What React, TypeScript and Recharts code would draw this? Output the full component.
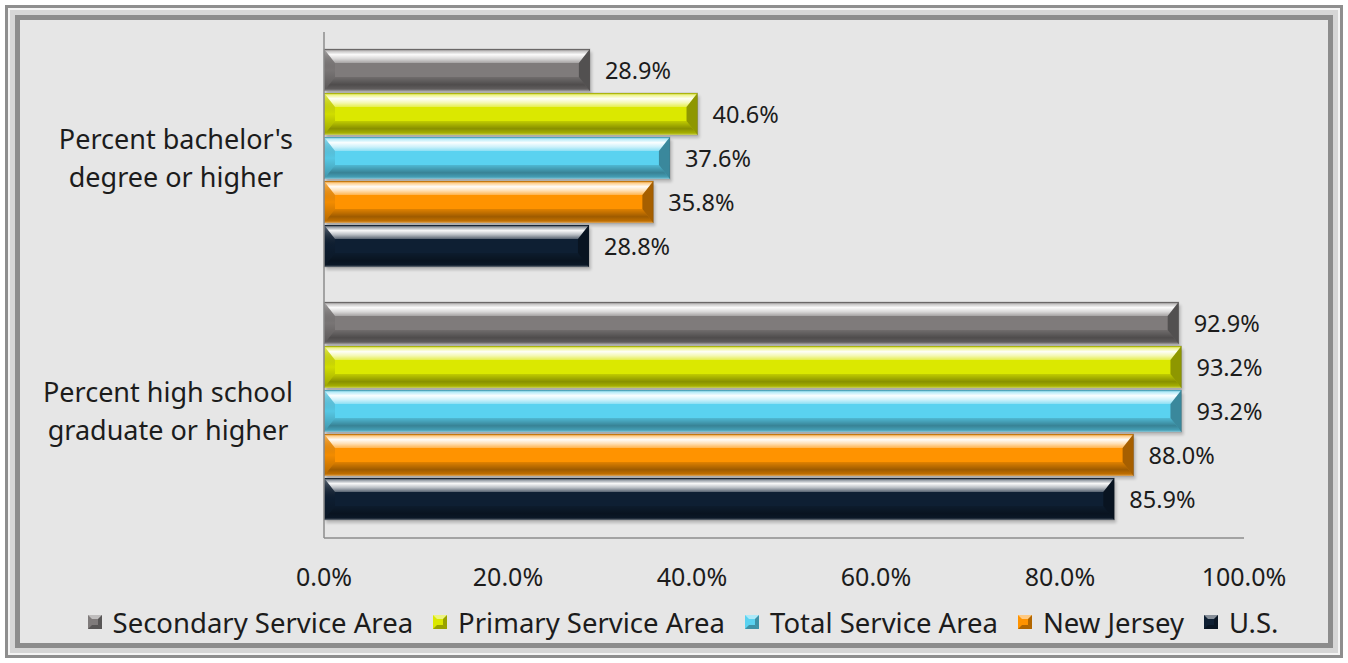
import React from "react";
import {
  BarChart,
  Bar,
  XAxis,
  YAxis,
  Legend,
  LabelList,
} from "recharts";

const categories = [
  "Percent bachelor's\ndegree or higher",
  "Percent high school\ngraduate or higher",
];
const secondaryArea = [28.9, 92.9];
const primaryArea = [40.6, 93.2];
const totalArea = [37.6, 93.2];
const newJersey = [35.8, 88.0];
const usValues = [28.8, 85.9];
const xTicks = [0, 20, 40, 60, 80, 100];

const series = [
  { key: "secondary", name: "Secondary Service Area", color: "#7f7b7b", values: secondaryArea },
  { key: "primary", name: "Primary Service Area", color: "#dbe800", values: primaryArea },
  { key: "total", name: "Total Service Area", color: "#5ad2f0", values: totalArea },
  { key: "nj", name: "New Jersey", color: "#ff9300", values: newJersey },
  { key: "us", name: "U.S.", color: "#0e1f33", values: usValues },
];

const rows = categories.map((name, i) => {
  const row: { [k: string]: string | number } = { name };
  series.forEach((s) => {
    row[s.key] = s.values[i];
  });
  return row;
});

const FONT = "'Noto Sans', 'Open Sans', sans-serif";
const TEXT = "#1c1c1c";

let ctx: CanvasRenderingContext2D | null = null;
const textWidth = (s: string, font: string) => {
  if (!ctx) ctx = document.createElement("canvas").getContext("2d");
  if (!ctx) return s.length * 12;
  ctx.font = font;
  return ctx.measureText(s).width;
};

// bevelled bar like the Excel "angle" bevel
const BevelBar = (props: any) => {
  const { x, y, width, height, fill } = props;
  if (!width || width <= 0) return null;
  const h = height - 2;
  const bx = Math.min(11, width / 2);
  const by = Math.min(14, h / 3);
  const r = x + width;
  const btm = y + h;
  return (
    <g>
      <rect x={x + 2} y={y + 3} width={width} height={h} fill="#000" opacity={0.2} filter="url(#barShadow)" />
      <rect x={x} y={y} width={width} height={h} fill={fill} />
      <polygon points={`${x},${y} ${r},${y} ${r - bx},${y + by} ${x + bx},${y + by}`} fill="url(#bevelTop)" />
      <polygon points={`${x},${btm} ${r},${btm} ${r - bx},${btm - by} ${x + bx},${btm - by}`} fill="url(#bevelBottom)" />
      <polygon points={`${x},${y} ${x + bx},${y + by} ${x + bx},${btm - by} ${x},${btm}`} fill="url(#bevelLeft)" />
      <polygon points={`${r},${y} ${r - bx},${y + by} ${r - bx},${btm - by} ${r},${btm}`} fill="#000" opacity={0.35} />
      <rect x={x} y={y} width={width} height={h} fill="none" stroke="#000" strokeOpacity={0.15} strokeWidth={1} />
    </g>
  );
};

const CategoryTick = (props: any) => {
  const { x, y, payload } = props;
  const lines = String(payload.value).split("\n");
  const size = 27;
  const font = `${size}px 'Noto Sans'`;
  const maxW = Math.max(...lines.map((l) => textWidth(l, font)));
  const cx = x - 31 - maxW / 2;
  const lh = 38;
  const start = y - ((lines.length - 1) * lh) / 2;
  return (
    <text textAnchor="middle" fontFamily={FONT} fontSize={size} fill={TEXT}>
      {lines.map((l, i) => (
        <tspan key={i} x={cx} y={start + i * lh} dy="0.35em">
          {l}
        </tspan>
      ))}
    </text>
  );
};

const LegendIcon = ({ color }: { color: string }) => {
  const s = 14;
  const b = 4;
  return (
    <svg width={s} height={s + 1} style={{ display: "block" }}>
      <rect x={0} y={0} width={s} height={s} fill={color} />
      <polygon points={`0,0 ${s},0 ${s - b},${b} ${b},${b}`} fill="#fff" opacity={0.5} />
      <polygon points={`0,${s} ${s},${s} ${s - b},${s - b} ${b},${s - b}`} fill="#000" opacity={0.3} />
      <polygon points={`${s},0 ${s - b},${b} ${s - b},${s - b} ${s},${s}`} fill="#000" opacity={0.3} />
    </svg>
  );
};

const LegendContent = () => (
  <div
    style={{
      display: "flex",
      justifyContent: "center",
      alignItems: "center",
      height: 30,
      paddingLeft: 18,
      fontFamily: FONT,
      fontSize: 27.5,
      color: TEXT,
      whiteSpace: "nowrap",
    }}
  >
    {series.map((s, i) => (
      <div key={s.key} style={{ display: "flex", alignItems: "center", marginLeft: i === 0 ? 0 : 20 }}>
        <LegendIcon color={s.color} />
        <span style={{ marginLeft: 11 }}>{s.name}</span>
      </div>
    ))}
  </div>
);

export default function App() {
  return (
    <div style={{ position: "absolute", left: 0, top: 0, width: 1348, height: 663, background: "#fff" }}>
      {/* frame */}
      <div
        style={{
          position: "absolute",
          left: 5,
          top: 5,
          width: 1338,
          height: 653,
          boxSizing: "border-box",
          border: "3px solid #8e8e8e",
          background: "#e6e6e6",
          boxShadow: "inset 0 0 0 2px #f4f4f4, inset 0 0 0 7px #d6d6d6, inset 0 0 0 12px #8c8c8c",
        }}
      />
      <div style={{ position: "absolute", left: 0, top: 0 }}>
        <BarChart
          width={1348}
          height={663}
          data={rows}
          layout="vertical"
          margin={{ top: 32, right: 104, left: 0, bottom: 26 }}
          barCategoryGap={17}
          barGap={0}
        >
          <defs>
            <linearGradient id="bevelTop" x1="0" y1="0" x2="0" y2="1">
              <stop offset="0%" stopColor="#000" stopOpacity={0.12} />
              <stop offset="12%" stopColor="#fff" stopOpacity={0.5} />
              <stop offset="40%" stopColor="#fff" stopOpacity={0.97} />
              <stop offset="70%" stopColor="#fff" stopOpacity={0.7} />
              <stop offset="100%" stopColor="#fff" stopOpacity={0.3} />
            </linearGradient>
            <linearGradient id="bevelBottom" x1="0" y1="0" x2="0" y2="1">
              <stop offset="0%" stopColor="#000" stopOpacity={0.12} />
              <stop offset="55%" stopColor="#000" stopOpacity={0.38} />
              <stop offset="85%" stopColor="#000" stopOpacity={0.25} />
              <stop offset="100%" stopColor="#fff" stopOpacity={0.45} />
            </linearGradient>
            <linearGradient id="bevelLeft" x1="0" y1="0" x2="0" y2="1">
              <stop offset="0%" stopColor="#fff" stopOpacity={0.35} />
              <stop offset="50%" stopColor="#000" stopOpacity={0.05} />
              <stop offset="100%" stopColor="#000" stopOpacity={0.3} />
            </linearGradient>
            <filter id="barShadow" x="-5%" y="-30%" width="110%" height="160%">
              <feGaussianBlur stdDeviation="1.5" />
            </filter>
          </defs>
          <XAxis
            type="number"
            domain={[0, 100]}
            ticks={xTicks}
            tickFormatter={(v: number) => `${v.toFixed(1)}%`}
            axisLine={{ stroke: "#8c8c8c", strokeWidth: 1.5 }}
            tickLine={false}
            tickSize={0}
            tickMargin={30}
            height={69}
            tick={{ fontSize: 25, fontFamily: FONT, fill: TEXT }}
          />
          <YAxis
            type="category"
            dataKey="name"
            width={324}
            axisLine={{ stroke: "#8c8c8c", strokeWidth: 1.5 }}
            tickLine={false}
            tickSize={0}
            tickMargin={0}
            tick={<CategoryTick />}
          />
          <Legend verticalAlign="bottom" wrapperStyle={{ left: 0, width: 1348 }} content={<LegendContent />} />
          {series.map((s) => (
            <Bar key={s.key} dataKey={s.key} name={s.name} fill={s.color} shape={<BevelBar />} isAnimationActive={false}>
              <LabelList
                dataKey={s.key}
                position="right"
                offset={15}
                fill={TEXT}
                fontSize={23.5}
                fontFamily={FONT}
                formatter={(v: number) => `${Number(v).toFixed(1)}%`}
              />
            </Bar>
          ))}
        </BarChart>
      </div>
    </div>
  );
}
